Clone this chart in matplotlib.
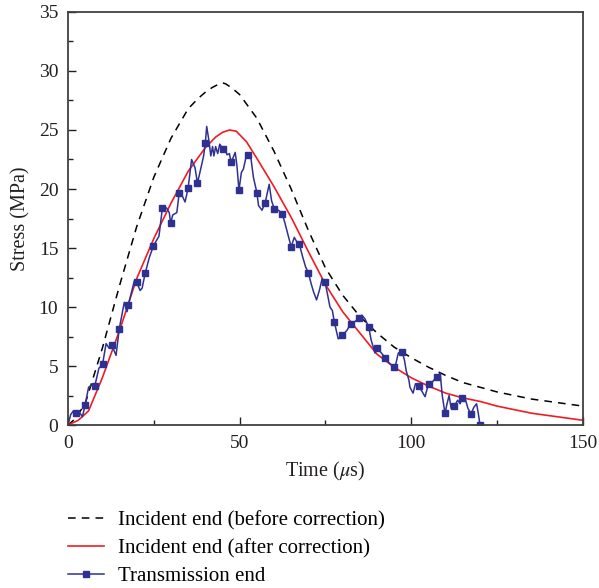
import matplotlib
matplotlib.use("Agg")
import matplotlib.pyplot as plt
from matplotlib.ticker import MultipleLocator

plt.rcParams['font.family'] = ['Liberation Serif', 'DejaVu Serif']
plt.rcParams['mathtext.fontset'] = 'stix'

# incident end, before correction
before_t = [0, 2, 5, 10, 15, 20, 25, 30, 35, 38, 40, 42, 44, 45, 46, 48, 50, 52,
            55, 60, 65, 70, 75, 80, 85, 90, 95, 100, 105, 110, 115, 120, 125, 130,
            135, 140, 145, 150]
before_y = [0, 0.5, 1.8, 6.5, 11.8, 16.8, 21.0, 24.3, 26.8, 27.7, 28.2, 28.6, 28.9,
            29.0, 28.9, 28.5, 28.0, 27.2, 26.0, 23.2, 20.0, 16.5, 13.3, 11.0, 9.2,
            7.8, 6.6, 5.7, 4.9, 4.2, 3.6, 3.2, 2.8, 2.5, 2.2, 2.0, 1.8, 1.6]

# incident end, after correction
after_t = [0, 3, 6, 10, 15, 20, 25, 30, 35, 40, 43, 45, 47, 49, 50, 52, 55, 60, 65,
           70, 75, 80, 85, 90, 95, 100, 105, 110, 115, 120, 125, 130, 135, 140,
           145, 150]
after_y = [0, 0.4, 1.2, 4.0, 8.0, 12.4, 15.8, 18.8, 21.5, 23.5, 24.4, 24.8, 25.0,
           24.9, 24.6, 24.0, 22.6, 20.2, 17.6, 14.7, 11.9, 9.6, 7.8, 6.0, 4.9, 4.0,
           3.3, 2.7, 2.3, 2.0, 1.6, 1.3, 1.0, 0.8, 0.6, 0.4]

# transmission end (m = 1 where a square marker is drawn)
trans_t = [0.0, 0.8, 1.6, 2.3, 3.3, 4.2, 5.0, 6.0, 7.0, 7.8, 9.0, 10.1, 11.1, 12.0,
           12.7, 14.0, 14.9, 16.4, 17.2, 17.6, 19.3, 20.0, 21.0, 21.6, 22.5, 23.7,
           24.9, 26.5, 27.5, 28.7, 29.5, 29.9, 30.5, 31.7, 32.4, 33.3, 34.1, 35.0,
           36.0, 37.0, 37.7, 38.5, 39.5, 40.0, 40.4, 41.0, 41.6, 42.1, 42.5, 43.0,
           43.6, 44.2, 45.1, 45.7, 46.3, 47.0, 47.5, 48.0, 48.7, 49.2, 49.8, 50.5,
           51.1, 52.0, 52.5, 53.2, 54.0, 55.0, 55.5, 56.5, 57.4, 58.6, 59.3, 60.1,
           61.3, 62.4, 63.2, 64.2, 65.0, 65.9, 66.5, 67.4, 68.3, 69.2, 70.0, 70.8,
           71.5, 72.4, 73.3, 74.0, 74.9, 75.5, 76.3, 77.0, 77.6, 78.7, 79.9, 81.2,
           82.4, 83.3, 84.9, 85.6, 86.5, 87.6, 88.3, 89.4, 90.1, 91.0, 92.4, 93.4,
           95.0, 95.5, 96.2, 97.3, 98.0, 98.5, 99.3, 99.6, 100.5, 101.2, 102.3,
           103.0, 104.0, 105.0, 106.0, 107.4, 108.4, 109.0, 109.8, 110.4, 111.0,
           111.6, 112.5, 113.5, 114.2, 114.9, 115.8, 116.5, 117.4, 118.2, 119.0,
           119.5, 120.0]
trans_y = [0.0, 0.9, 1.2, 1.0, 1.1, 0.7, 1.7, 3.2, 3.4, 3.3, 4.8, 5.2, 6.9, 6.5,
           6.8, 5.9, 8.1, 10.4, 9.6, 10.2, 12.2, 12.1, 11.4, 11.6, 12.9, 14.2,
           15.2, 16.0, 18.4, 18.4, 18.0, 17.1, 17.8, 18.0, 19.7, 19.4, 18.9, 20.1,
           22.5, 21.8, 20.5, 21.5, 22.8, 23.9, 25.3, 24.2, 22.8, 23.6, 22.8, 23.6,
           23.0, 23.8, 23.4, 23.5, 22.9, 23.0, 22.3, 22.6, 23.1, 22.0, 19.9, 21.4,
           21.7, 22.9, 22.9, 22.8, 21.0, 19.7, 18.6, 18.2, 18.8, 20.4, 19.0, 18.3,
           18.2, 17.9, 17.1, 16.0, 15.1, 15.9, 15.6, 15.3, 14.3, 13.4, 12.9, 12.0,
           11.3, 10.6, 11.5, 12.4, 12.1, 11.2, 10.0, 9.7, 8.7, 7.3, 7.6, 8.0,
           8.6, 8.7, 9.1, 9.3, 9.0, 8.3, 7.2, 6.1, 6.5, 6.2, 5.7, 5.3,
           4.9, 5.2, 6.1, 6.2, 5.5, 4.6, 3.8, 3.2, 2.7, 3.5, 3.3,
           2.9, 2.4, 3.5, 3.6, 4.1, 4.4, 2.5, 1.0, 1.8, 2.5,
           1.4, 1.6, 2.1, 1.8, 2.3, 2.1, 1.4, 0.93, 1.5, 1.8,
           1.0, 0.0]
trans_m = [0, 0, 0, 1, 0, 0, 1, 0, 0, 1, 0, 1, 0, 0,
           1, 0, 1, 0, 0, 1, 0, 1, 0, 0, 1, 0,
           1, 0, 1, 0, 0, 1, 0, 0, 1, 0, 0, 1,
           0, 0, 1, 0, 0, 1, 0, 0, 0, 0, 0, 0,
           0, 0, 1, 0, 0, 0, 1, 0, 0, 0, 1, 0,
           0, 0, 1, 0, 0, 1, 0, 0, 1, 0, 0, 1,
           0, 1, 0, 0, 1, 0, 0, 1, 0, 0, 1, 0,
           0, 0, 0, 0, 1, 0, 0, 0, 1, 0, 1, 0,
           1, 0, 1, 0, 0, 1, 0, 0, 1, 0, 1, 0,
           1, 0, 0, 1, 0, 0, 0, 0, 0, 0, 1,
           0, 0, 1, 0, 1, 0, 0, 1, 0, 0,
           0, 1, 0, 0, 1, 0, 0, 1, 0, 0,
           0, 1]

fig = plt.figure(figsize=(5.99, 5.88), dpi=100)
ax = fig.add_axes([0.1135, 0.2772, 0.8598, 0.7024])

ax.plot(before_t, before_y, color='black', lw=1.1, ls=(0, (5, 4)),
        label='Incident end (before correction)')
ax.plot(after_t, after_y, color='#f01c24', lw=1.2,
        label='Incident end (after correction)')
marks = [i for i, m in enumerate(trans_m) if m]
ax.plot(trans_t, trans_y, color='#2e3192', lw=1.1, marker='s', ms=4.2,
        markevery=marks, label='Transmission end')

ax.set_xlim(0, 150)
ax.set_ylim(0, 35)
ax.xaxis.set_major_locator(MultipleLocator(50))
ax.xaxis.set_minor_locator(MultipleLocator(25))
ax.yaxis.set_major_locator(MultipleLocator(5))
ax.yaxis.set_minor_locator(MultipleLocator(2.5))
ax.tick_params(which='both', direction='in', top=False, right=False,
               labelsize=14, colors='#231f20', pad=7)
ax.tick_params(which='major', length=6, width=1)
ax.tick_params(which='minor', length=3.5, width=1)
for s in ax.spines.values():
    s.set_color('#404040')
    s.set_linewidth(1.3)

ax.set_xlabel(r'Time ($\mu$s)', fontsize=14.5, color='#231f20', labelpad=6)
ax.set_ylabel('Stress (MPa)', fontsize=14.5, color='#231f20', labelpad=6)

fig.legend(loc='upper left', bbox_to_anchor=(0.1, 0.146), frameon=False,
           fontsize=15, handlelength=1.7, handletextpad=0.7, labelspacing=0.4,
           borderaxespad=0)

fig.savefig('out.png', dpi=100)
